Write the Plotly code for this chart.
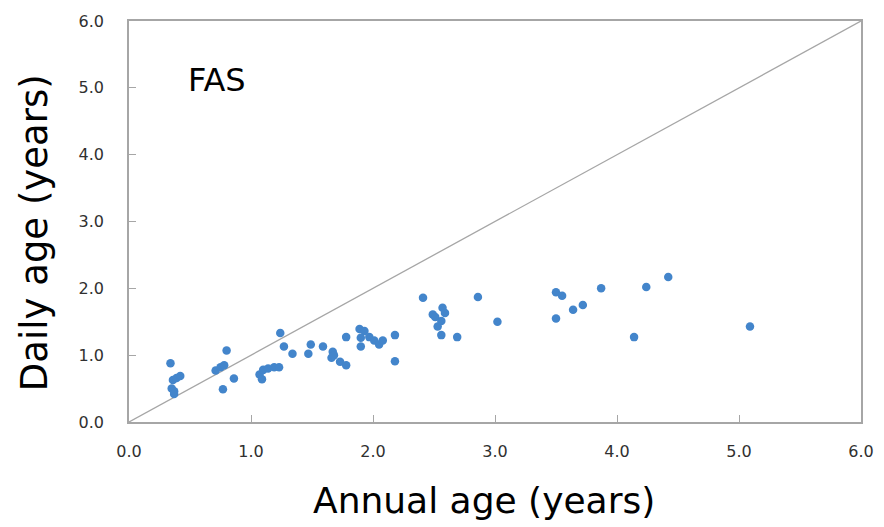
import plotly.graph_objects as go

annual_age = [0.34, 0.36, 0.39, 0.42, 0.35, 0.37, 0.37, 0.71, 0.75, 0.78, 0.80, 0.86, 0.77,
              1.07, 1.09, 1.10, 1.14, 1.19, 1.23, 1.24, 1.27, 1.34, 1.47, 1.49, 1.59, 1.67,
              1.66, 1.68, 1.73, 1.78, 1.78, 1.89, 1.93, 1.90, 1.90, 1.97, 2.01, 2.05, 2.08,
              2.18, 2.18, 2.41, 2.49, 2.51, 2.57, 2.59, 2.56, 2.53, 2.56, 2.69, 2.86, 3.02,
              3.50, 3.55, 3.50, 3.64, 3.72, 3.87, 4.14, 4.24, 4.42, 5.09]
daily_age = [0.88, 0.63, 0.66, 0.69, 0.50, 0.46, 0.42, 0.77, 0.82, 0.85, 1.07, 0.65, 0.49,
             0.71, 0.64, 0.78, 0.80, 0.82, 0.82, 1.33, 1.13, 1.02, 1.02, 1.16, 1.13, 1.05,
             0.96, 1.00, 0.90, 0.85, 1.27, 1.39, 1.36, 1.26, 1.13, 1.27, 1.22, 1.16, 1.22,
             1.30, 0.91, 1.86, 1.61, 1.57, 1.71, 1.63, 1.51, 1.43, 1.30, 1.27, 1.87, 1.50,
             1.94, 1.89, 1.55, 1.68, 1.75, 2.00, 1.27, 2.02, 2.17, 1.43]

line_x = [0, 6]
line_y = [0, 6]
tick_vals = [0, 1, 2, 3, 4, 5, 6]
tick_text = ["0.0", "1.0", "2.0", "3.0", "4.0", "5.0", "6.0"]

FONT = "DejaVu Sans"

fig = go.Figure()
fig.add_trace(go.Scatter(x=line_x, y=line_y, mode="lines",
                         line=dict(color="#A6A6A6", width=1.3), hoverinfo="skip"))
fig.add_trace(go.Scatter(x=annual_age, y=daily_age, mode="markers",
                         marker=dict(color="#4385CB", size=8.5, line=dict(width=0))))

axis_common = dict(range=[0, 6], tickvals=tick_vals, ticktext=tick_text,
                   showgrid=False, zeroline=False, showline=True, mirror=True,
                   linecolor="#A6A6A6", linewidth=1.5, ticks="inside", ticklen=7,
                   tickcolor="#A6A6A6", tickwidth=1, automargin=False,
                   tickfont=dict(family=FONT, size=16, color="#303030"))

fig.update_xaxes(**axis_common, ticklabelstandoff=14)
fig.update_yaxes(**axis_common, ticklabelstandoff=20)

fig.update_layout(
    width=876, height=519,
    margin=dict(l=121, r=23, t=13, b=105),
    plot_bgcolor="white", paper_bgcolor="white",
    showlegend=False,
    annotations=[
        dict(text="FAS", x=0.47, y=5.12, xref="x", yref="y", showarrow=False,
             xanchor="left", yanchor="middle",
             font=dict(family=FONT, size=32, color="black")),
        dict(text="Annual age (years)", x=0.485, y=-0.196, xref="paper", yref="paper",
             showarrow=False, xanchor="center", yanchor="middle",
             font=dict(family=FONT, size=36, color="black")),
        dict(text="Daily age (years)", x=-0.13, y=0.473, xref="paper", yref="paper",
             showarrow=False, xanchor="center", yanchor="middle", textangle=-90,
             font=dict(family=FONT, size=37, color="black")),
    ],
)

fig.write_html("out.html")
